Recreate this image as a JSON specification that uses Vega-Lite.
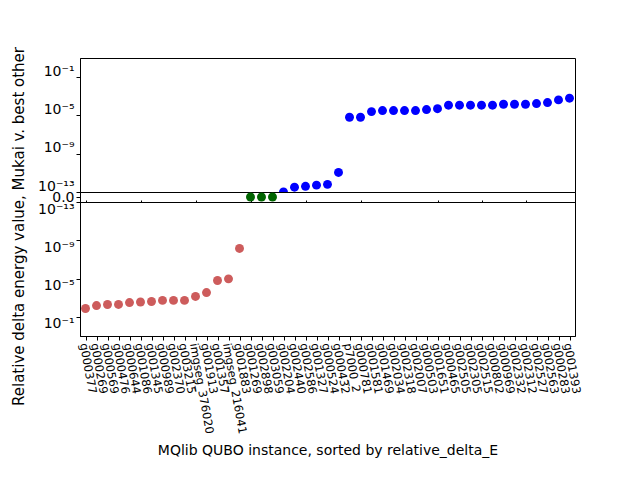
{
  "$schema": "https://vega.github.io/schema/vega-lite/v6.json",
  "padding": {"left": 10, "top": 46, "right": 5, "bottom": 5},
  "background": "white",
  "bounds": "flush",
  "config": {
    "font": "DejaVu Sans",
    "view": {"stroke": "black", "strokeWidth": 1},
    "axis": {
      "labelFont": "DejaVu Sans", "labelFontSize": 14, "labelColor": "black",
      "titleFont": "DejaVu Sans", "titleFontSize": 14, "titleFontWeight": "normal", "titleColor": "black",
      "domainColor": "black", "tickColor": "black", "tickSize": 4, "grid": false
    }
  },
  "datasets": {
    "runs": [
      {"instance": "g000377", "group": "neg", "mag": 0.0135},
      {"instance": "g000269", "group": "neg", "mag": 0.0066},
      {"instance": "g000569", "group": "neg", "mag": 0.0051},
      {"instance": "g000476", "group": "neg", "mag": 0.0050},
      {"instance": "g000644", "group": "neg", "mag": 0.0032},
      {"instance": "g001086", "group": "neg", "mag": 0.0028},
      {"instance": "g001345", "group": "neg", "mag": 0.0025},
      {"instance": "g000989", "group": "neg", "mag": 0.0019},
      {"instance": "g002370", "group": "neg", "mag": 0.0019},
      {"instance": "g003215", "group": "neg", "mag": 0.0019},
      {"instance": "imgseg_376020", "group": "neg", "mag": 0.00074},
      {"instance": "g001913", "group": "neg", "mag": 0.00029},
      {"instance": "g001357", "group": "neg", "mag": 1.6e-5},
      {"instance": "imgseg_216041", "group": "neg", "mag": 1.07e-5},
      {"instance": "g001883", "group": "neg", "mag": 7.1e-9},
      {"instance": "g001269", "group": "zero", "mag": 0},
      {"instance": "g002898", "group": "zero", "mag": 0},
      {"instance": "g003059", "group": "zero", "mag": 0},
      {"instance": "g002204", "group": "pos", "mag": 1.0e-13},
      {"instance": "g002440", "group": "pos", "mag": 3.2e-13},
      {"instance": "g002586", "group": "pos", "mag": 3.9e-13},
      {"instance": "g001327", "group": "pos", "mag": 5.2e-13},
      {"instance": "g000524", "group": "pos", "mag": 6.3e-13},
      {"instance": "g000432", "group": "pos", "mag": 1.1e-11},
      {"instance": "p7000_2", "group": "pos", "mag": 6.5e-6},
      {"instance": "g000781", "group": "pos", "mag": 6.5e-6},
      {"instance": "g001581", "group": "pos", "mag": 2.5e-5},
      {"instance": "g001469", "group": "pos", "mag": 3.2e-5},
      {"instance": "g002034", "group": "pos", "mag": 3.2e-5},
      {"instance": "g002318", "group": "pos", "mag": 3.2e-5},
      {"instance": "g002007", "group": "pos", "mag": 3.2e-5},
      {"instance": "g000503", "group": "pos", "mag": 4.1e-5},
      {"instance": "g001651", "group": "pos", "mag": 5.1e-5},
      {"instance": "g000465", "group": "pos", "mag": 1.17e-4},
      {"instance": "g002505", "group": "pos", "mag": 1.17e-4},
      {"instance": "g002305", "group": "pos", "mag": 1.17e-4},
      {"instance": "g002515", "group": "pos", "mag": 1.17e-4},
      {"instance": "g000802", "group": "pos", "mag": 1.17e-4},
      {"instance": "g000969", "group": "pos", "mag": 1.48e-4},
      {"instance": "g002332", "group": "pos", "mag": 1.48e-4},
      {"instance": "g002312", "group": "pos", "mag": 1.48e-4},
      {"instance": "g002527", "group": "pos", "mag": 1.74e-4},
      {"instance": "g002563", "group": "pos", "mag": 2.2e-4},
      {"instance": "g000283", "group": "pos", "mag": 4.2e-4},
      {"instance": "g001393", "group": "pos", "mag": 6.3e-4}
    ]
  },
  "spacing": 0,
  "vconcat": [
    {
      "width": 495,
      "height": 134,
      "data": {"name": "runs"},
      "transform": [{"filter": "datum.group == 'pos'"}],
      "mark": {"type": "circle", "size": 80, "opacity": 1, "color": "#0000ff", "clip": true},
      "encoding": {
        "x": {
          "field": "instance", "type": "nominal", "axis": null,
          "scale": {"type": "point", "padding": 0.5, "domain": ["g000377","g000269","g000569","g000476","g000644","g001086","g001345","g000989","g002370","g003215","imgseg_376020","g001913","g001357","imgseg_216041","g001883","g001269","g002898","g003059","g002204","g002440","g002586","g001327","g000524","g000432","p7000_2","g000781","g001581","g001469","g002034","g002318","g002007","g000503","g001651","g000465","g002505","g002305","g002515","g000802","g000969","g002332","g002312","g002527","g002563","g000283","g001393"]}
        },
        "y": {
          "field": "mag", "type": "quantitative",
          "scale": {"type": "log", "domain": [1e-13, 10], "nice": false},
          "axis": {
            "title": null, "values": [1e-13, 1e-9, 1e-5, 1e-1], "labelOffset": -6,
            "labelExpr": "datum.value < 1e-12 ? '10⁻¹³' : datum.value < 1e-8 ? '10⁻⁹' : datum.value < 1e-4 ? '10⁻⁵' : '10⁻¹'"
          }
        }
      }
    },
    {
      "width": 495,
      "height": 10,
      "data": {"name": "runs"},
      "transform": [{"filter": "datum.group == 'zero'"}],
      "mark": {"type": "circle", "size": 80, "opacity": 1, "color": "#006400"},
      "encoding": {
        "x": {
          "field": "instance", "type": "nominal",
          "scale": {"type": "point", "padding": 0.5, "domain": ["g000377","g000269","g000569","g000476","g000644","g001086","g001345","g000989","g002370","g003215","imgseg_376020","g001913","g001357","imgseg_216041","g001883","g001269","g002898","g003059","g002204","g002440","g002586","g001327","g000524","g000432","p7000_2","g000781","g001581","g001469","g002034","g002318","g002007","g000503","g001651","g000465","g002505","g002305","g002515","g000802","g000969","g002332","g002312","g002527","g002563","g000283","g001393"]},
          "axis": {"title": null, "labels": false, "tickSize": -2, "values": ["g000377","g001086","imgseg_376020","g001269","g002586","g000781","g001651","g002515","g002312"]}
        },
        "y": {
          "field": "mag", "type": "quantitative",
          "scale": {"domain": [-1, 1]},
          "axis": {
            "title": "Relative delta energy value, Mukai v. best other",
            "values": [0], "format": ".1f", "titleFontSize": 15,
            "titleAngle": -90, "titleAlign": "center", "titleBaseline": "middle",
            "titleX": -62, "titleY": 34
          }
        }
      }
    },
    {
      "width": 495,
      "height": 134,
      "data": {"name": "runs"},
      "transform": [{"filter": "datum.group == 'neg'"}],
      "mark": {"type": "circle", "size": 80, "opacity": 1, "color": "#cd5c5c", "clip": true},
      "encoding": {
        "x": {
          "field": "instance", "type": "nominal",
          "scale": {"type": "point", "padding": 0.5, "domain": ["g000377","g000269","g000569","g000476","g000644","g001086","g001345","g000989","g002370","g003215","imgseg_376020","g001913","g001357","imgseg_216041","g001883","g001269","g002898","g003059","g002204","g002440","g002586","g001327","g000524","g000432","p7000_2","g000781","g001581","g001469","g002034","g002318","g002007","g000503","g001651","g000465","g002505","g002305","g002515","g000802","g000969","g002332","g002312","g002527","g002563","g000283","g001393"]},
          "axis": {
            "title": "MQlib QUBO instance, sorted by relative_delta_E",
            "labelAngle": 80, "labelAlign": "left", "labelBaseline": "middle", "labelFontSize": 11.5,
            "labelPadding": 3, "labelOffset": -3, "titleY": 107
          }
        },
        "y": {
          "field": "mag", "type": "quantitative",
          "scale": {"type": "log", "domain": [1e-13, 10], "nice": false, "reverse": true},
          "axis": {
            "title": null, "values": [1e-13, 1e-9, 1e-5, 1e-1], "labelOffset": 7,
            "labelExpr": "datum.value < 1e-12 ? '10⁻¹³' : datum.value < 1e-8 ? '10⁻⁹' : datum.value < 1e-4 ? '10⁻⁵' : '10⁻¹'"
          }
        }
      }
    }
  ]
}
